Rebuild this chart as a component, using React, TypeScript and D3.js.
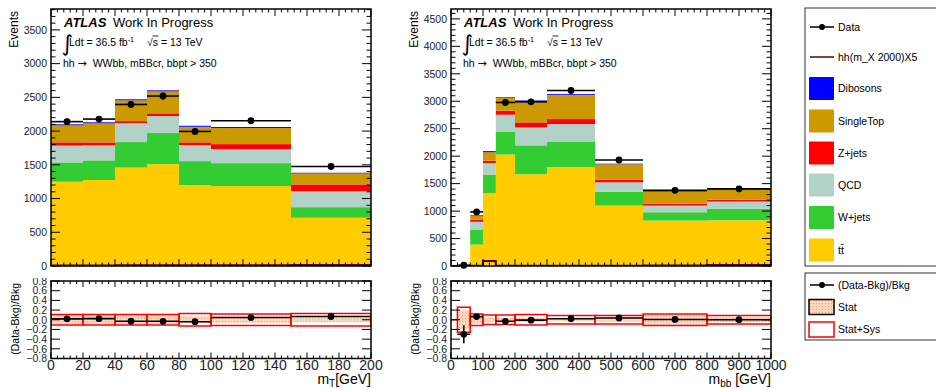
import React from "react";
import * as d3 from "d3";

/* ---------------- m_T panel (left) ---------------- */
const mtEdges = [0, 20, 40, 60, 80, 100, 150, 200];
const mtTtbar = [1250, 1275, 1460, 1510, 1200, 1185, 715];
const mtWjets = [286, 291, 377, 461, 355, 340, 157];
const mtQcd = [249, 224, 283, 252, 238, 208, 238];
const mtZjets = [48, 42, 28, 40, 40, 74, 99];
const mtSingleTop = [252, 283, 308, 326, 231, 238, 163];
const mtDibosons = [15, 15, 15, 15, 15, 15, 10];
const mtSignal = [8, 8, 10, 10, 10, 12, 15];
const mtData: (number | null)[] = [2140, 2178, 2395, 2520, 1995, 2153, 1475];
const mtStat = [0.09, 0.09, 0.09, 0.09, 0.07, 0.06, 0.045];
const mtStatSys = [0.11, 0.11, 0.11, 0.11, 0.13, 0.12, 0.13];
const mtXTicks = [0, 20, 40, 60, 80, 100, 120, 140, 160, 180, 200];
const mtYTicks = [0, 500, 1000, 1500, 2000, 2500, 3000, 3500];

/* ---------------- m_bb panel (right) ---------------- */
const mbbEdges = [0, 20, 60, 100, 140, 200, 300, 450, 600, 800, 1000];
const mbbTtbar = [5, 20, 390, 1330, 2030, 1670, 1803, 1100, 827, 833];
const mbbWjets = [0, 0, 275, 333, 410, 527, 455, 249, 152, 207];
const mbbQcd = [0, 0, 140, 212, 315, 327, 327, 175, 121, 133];
const mbbZjets = [0, 0, 40, 42, 72, 91, 91, 48, 36, 36];
const mbbSingleTop = [0, 0, 70, 155, 238, 385, 440, 281, 224, 185];
const mbbDibosons = [0, 0, 10, 20, 11, 15, 15, 10, 10, 10];
const mbbSignal = [0, 0, 3, 90, 6, 5, 5, 5, 8, 20];
const mbbData: (number | null)[] = [null, 14, 985, null, 2978, 2990, 3196, 1930, 1378, 1405];
const mbbStat = [0, 0.2, 0.08, 0.05, 0.04, 0.04, 0.03, 0.04, 0.1, 0.05];
const mbbStatSys = [0, 0.26, 0.12, 0.1, 0.1, 0.11, 0.09, 0.09, 0.12, 0.09];
const mbbXTicks = [0, 100, 200, 300, 400, 500, 600, 700, 800, 900, 1000];
const mbbYTicks = [0, 500, 1000, 1500, 2000, 2500, 3000, 3500, 4000, 4500];

const ratioTicks = [-0.8, -0.6, -0.4, -0.2, 0, 0.2, 0.4, 0.6, 0.8];

/* ---------------- legend ---------------- */
const stackKeys = ["ttbar", "wjets", "qcd", "zjets", "singletop", "dibosons"];
const colors: Record<string, string> = {
  ttbar: "#ffcc00",
  wjets: "#33cc33",
  qcd: "#b2d2c8",
  zjets: "#ff0000",
  singletop: "#cc9900",
  dibosons: "#0000ff",
};
const legendBoxes = [
  { key: "dibosons", label: "Dibosons" },
  { key: "singletop", label: "SingleTop" },
  { key: "zjets", label: "Z+jets" },
  { key: "qcd", label: "QCD" },
  { key: "wjets", label: "W+jets" },
  { key: "ttbar", label: "tt\u0304" },
];

const FONT = "'Liberation Sans', Arial, Helvetica, sans-serif";
const SIGNAL = "#5a0000";

// pad layout
const TOP_T = 9;
const TOP_B = 266;
const RAT_T = 281;
const RAT_B = 358.5;

function rectPath(x0: number, x1: number, yt: number, yb: number) {
  return `M${x0},${yt}H${x1}V${yb}H${x0}Z`;
}

function Panel(props: any) {
  const { left, right, edges, layers, data, signal, stat, statSys, yMax, yTicks, xTicks, xMinor, yMinor, xTitle, id } = props;
  const x = d3.scaleLinear().domain([edges[0], edges[edges.length - 1]]).range([left, right]);
  const y = d3.scaleLinear().domain([0, yMax]).range([TOP_B, TOP_T]);
  const r = d3.scaleLinear().domain([-0.8, 0.8]).range([RAT_B, RAT_T]);

  const rows = edges.slice(0, -1).map((_: number, i: number) => {
    const row: Record<string, number> = {};
    stackKeys.forEach(k => (row[k] = layers[k][i]));
    return row;
  });
  const series = d3.stack<Record<string, number>>().keys(stackKeys)(rows);
  const bkg = rows.map((row: Record<string, number>) => d3.sum(stackKeys, k => row[k]));

  const sigPts: [number, number][] = [[edges[0], 0]];
  signal.forEach((v: number, i: number) => sigPts.push([edges[i], v]));
  sigPts.push([edges[edges.length - 1], signal[signal.length - 1]]);
  sigPts.push([edges[edges.length - 1], 0]);
  const sigLine = d3.line<[number, number]>().x(d => x(d[0])).y(d => y(d[1])).curve(d3.curveStepAfter);

  const xMinorTicks = d3.range(edges[0], edges[edges.length - 1] + 1e-6, xMinor);
  const yMinorTicks = d3.range(0, yMax, yMinor);

  return (
    <g>
      <defs>
        <clipPath id={`top-${id}`}>
          <rect x={left} y={TOP_T} width={right - left} height={TOP_B - TOP_T} />
        </clipPath>
        <clipPath id={`rat-${id}`}>
          <rect x={left} y={RAT_T} width={right - left} height={RAT_B - RAT_T} />
        </clipPath>
        <clipPath id={`ratlab-${id}`}>
          <rect x={0} y={RAT_T - 3} width={right} height={120} />
        </clipPath>
      </defs>

      {/* stacked backgrounds */}
      <g clipPath={`url(#top-${id})`}>
        {series.map(s => (
          <g key={s.key}>
            {s.map((d, i) => (
              <rect key={i} x={x(edges[i])} width={x(edges[i + 1]) - x(edges[i])}
                y={y(d[1])} height={Math.max(0, y(d[0]) - y(d[1]))} fill={colors[s.key]} />
            ))}
          </g>
        ))}
        <path d={sigLine(sigPts) || ""} fill="none" stroke={SIGNAL} strokeWidth={2} />
      </g>

      {/* data */}
      {data.map((d: number | null, i: number) => {
        if (d == null) return null;
        const xc = x((edges[i] + edges[i + 1]) / 2);
        const err = Math.sqrt(d);
        return (
          <g key={i}>
            <line x1={x(edges[i])} x2={x(edges[i + 1])} y1={y(d)} y2={y(d)} stroke="#000" strokeWidth={1.6} />
            <line x1={xc} x2={xc} y1={y(d + err)} y2={y(Math.max(0, d - err))} stroke="#000" strokeWidth={1.6} />
            <circle cx={xc} cy={y(d)} r={3.4} fill="#000" />
          </g>
        );
      })}

      {/* top frame + ticks */}
      <rect x={left} y={TOP_T} width={right - left} height={TOP_B - TOP_T} fill="none" stroke="#000" strokeWidth={1.5} />
      {yMinorTicks.map((t: number) => {
        const major = t % 500 === 0;
        const len = major ? 9 : 4.5;
        return (
          <g key={t} stroke="#000" strokeWidth={1}>
            <line x1={left} x2={left + len} y1={y(t)} y2={y(t)} />
            <line x1={right} x2={right - len} y1={y(t)} y2={y(t)} />
          </g>
        );
      })}
      {xMinorTicks.map((t: number, i: number) => {
        const major = xTicks.some((m: number) => Math.abs(m - t) < 1e-6);
        const len = major ? 7 : 3.5;
        return (
          <g key={i} stroke="#000" strokeWidth={1}>
            <line x1={x(t)} x2={x(t)} y1={TOP_B} y2={TOP_B - len} />
            <line x1={x(t)} x2={x(t)} y1={TOP_T} y2={TOP_T + len} />
          </g>
        );
      })}
      {yTicks.map((t: number) => (
        <text key={t} x={left - 4} y={y(t)} dy="0.36em" textAnchor="end" fontSize={10.5} fill="#222">{t}</text>
      ))}
      <text transform={`translate(${left - 33},${TOP_T + 2}) rotate(-90)`} textAnchor="end" fontSize={12}>Events</text>

      {/* ATLAS label block */}
      <text x={left + 13} y={27} fontSize={13} fontWeight="bold" fontStyle="italic">ATLAS</text>
      <text x={left + 62} y={27} fontSize={13}>Work In Progress</text>
      <text x={left + 10.5} y={51} fontSize={22} fontFamily="'DejaVu Sans', sans-serif">∫</text>
      <text x={left + 18} y={46} fontSize={10.5}>
        Ldt = 36.5 fb<tspan fontSize={7} dy={-4}>-1</tspan>
      </text>
      <text x={left + 96} y={46} fontSize={10.5}>√s = 13 TeV</text>
      <line x1={left + 101.5} x2={left + 107.5} y1={36} y2={36} stroke="#000" strokeWidth={0.8} />
      <text x={left + 12} y={67} fontSize={10.5} style={{ whiteSpace: "pre" }}>
        hh <tspan fontFamily="'DejaVu Sans', sans-serif" fontSize={11}>→</tspan>  WWbb, mBBcr, bbpt &gt; 350
      </text>

      {/* ratio pad */}
      <g clipPath={`url(#rat-${id})`}>
        {stat.map((s: number, i: number) => (
          <path key={i} d={rectPath(x(edges[i]), x(edges[i + 1]), r(s), r(-s))} fill="url(#statHatch)" />
        ))}
        {statSys.map((s: number, i: number) => (
          <path key={i} d={rectPath(x(edges[i]), x(edges[i + 1]), r(s), r(-s))} fill="none" stroke="#ff0000" strokeWidth={1.5} />
        ))}
        {data.map((d: number | null, i: number) => {
          if (d == null) return null;
          const b = bkg[i];
          const v = (d - b) / b;
          const e = Math.sqrt(d) / b;
          const xc = x((edges[i] + edges[i + 1]) / 2);
          return (
            <g key={i}>
              <line x1={x(edges[i])} x2={x(edges[i + 1])} y1={r(v)} y2={r(v)} stroke="#000" strokeWidth={1.6} />
              <line x1={xc} x2={xc} y1={r(v + e)} y2={r(v - e)} stroke="#000" strokeWidth={1.6} />
              <circle cx={xc} cy={r(v)} r={3.4} fill="#000" />
            </g>
          );
        })}
      </g>
      <rect x={left} y={RAT_T} width={right - left} height={RAT_B - RAT_T} fill="none" stroke="#000" strokeWidth={1.5} />
      {ratioTicks.map(t => (
        <g key={t} stroke="#000" strokeWidth={1}>
          <line x1={left} x2={left + 9} y1={r(t)} y2={r(t)} />
          <line x1={right} x2={right - 9} y1={r(t)} y2={r(t)} />
        </g>
      ))}
      {xMinorTicks.map((t: number, i: number) => {
        const major = xTicks.some((m: number) => Math.abs(m - t) < 1e-6);
        const len = major ? 6 : 3;
        return (
          <g key={i} stroke="#000" strokeWidth={1}>
            <line x1={x(t)} x2={x(t)} y1={RAT_B} y2={RAT_B - len} />
            <line x1={x(t)} x2={x(t)} y1={RAT_T} y2={RAT_T + len} />
          </g>
        );
      })}
      <g clipPath={`url(#ratlab-${id})`}>
        {ratioTicks.map(t => (
          <text key={t} x={left - 4} y={r(t)} dy="0.36em" textAnchor="end" fontSize={10.5} fill="#222">
            {t < 0 ? `−${(-t).toFixed(1)}` : t.toFixed(1)}
          </text>
        ))}
      </g>
      {xTicks.map((t: number) => (
        <text key={t} x={x(t)} y={370} textAnchor="middle" fontSize={14} fill="#222">{t}</text>
      ))}
      <text transform={`translate(${left - 32},${RAT_T + 2}) rotate(-90)`} textAnchor="end" fontSize={10.5}>(Data-Bkg)/Bkg</text>
      <text x={right} y={384} textAnchor="end" fontSize={14}>{xTitle}</text>
    </g>
  );
}

function Legend() {
  const lx = 805;
  const bx = 809;
  const tx = 838;
  const rowY = [27, 57, 88.5, 121, 153, 185, 217.5, 250];
  return (
    <g fontSize={10.5}>
      <rect x={lx} y={8} width={140} height={258} fill="#fff" stroke="#333" strokeWidth={1} />
      <line x1={bx + 1} x2={bx + 25} y1={rowY[0]} y2={rowY[0]} stroke="#000" strokeWidth={1.5} />
      <circle cx={bx + 13} cy={rowY[0]} r={3} fill="#000" />
      <text x={tx} y={rowY[0]} dy="0.36em">Data</text>
      <line x1={bx + 1} x2={bx + 25} y1={rowY[1]} y2={rowY[1]} stroke={SIGNAL} strokeWidth={1.5} />
      <text x={tx} y={rowY[1]} dy="0.36em">hh(m_X 2000)X5</text>
      {legendBoxes.map((b, i) => (
        <g key={b.key}>
          <rect x={bx} y={rowY[i + 2] - 11.5} width={25} height={23} fill={colors[b.key]} rx={1} />
          <text x={tx} y={rowY[i + 2]} dy="0.36em">{b.label}</text>
        </g>
      ))}

      <rect x={lx} y={273} width={140} height={67} fill="#fff" stroke="#333" strokeWidth={1} />
      <line x1={bx + 1} x2={bx + 25} y1={285} y2={285} stroke="#000" strokeWidth={1.5} />
      <circle cx={bx + 13} cy={285} r={3} fill="#000" />
      <text x={tx} y={285} dy="0.36em">(Data-Bkg)/Bkg</text>
      <rect x={bx} y={299.5} width={25} height={15} fill="url(#statHatch)" stroke="#000" strokeWidth={1.5} />
      <text x={tx} y={307} dy="0.36em">Stat</text>
      <rect x={bx} y={322} width={25} height={15} fill="#fff" stroke="#ff0000" strokeWidth={1.5} />
      <text x={tx} y={329.5} dy="0.36em">Stat+Sys</text>
    </g>
  );
}

export default function App() {
  return (
    <svg width={936} height={388} style={{ position: "absolute", left: 0, top: 0, background: "#fff" }} fontFamily={FONT}>
      <defs>
        <pattern id="statHatch" width="3" height="3" patternUnits="userSpaceOnUse">
          <rect width="3" height="3" fill="#fcd6bd" />
          <rect width="1" height="1" fill="#f1a47e" />
        </pattern>
      </defs>
      <rect width={936} height={388} fill="#fff" />
      <Panel
        id="mt"
        left={51}
        right={371}
        edges={mtEdges}
        layers={{ ttbar: mtTtbar, wjets: mtWjets, qcd: mtQcd, zjets: mtZjets, singletop: mtSingleTop, dibosons: mtDibosons }}
        data={mtData}
        signal={mtSignal}
        stat={mtStat}
        statSys={mtStatSys}
        yMax={3810}
        yTicks={mtYTicks}
        yMinor={100}
        xTicks={mtXTicks}
        xMinor={4}
        xTitle={<>m<tspan fontSize={10} dy={3}>T</tspan><tspan dy={-3}>[GeV]</tspan></>}
      />
      <Panel
        id="mbb"
        left={451}
        right={771}
        edges={mbbEdges}
        layers={{ ttbar: mbbTtbar, wjets: mbbWjets, qcd: mbbQcd, zjets: mbbZjets, singletop: mbbSingleTop, dibosons: mbbDibosons }}
        data={mbbData}
        signal={mbbSignal}
        stat={mbbStat}
        statSys={mbbStatSys}
        yMax={4680}
        yTicks={mbbYTicks}
        yMinor={100}
        xTicks={mbbXTicks}
        xMinor={20}
        xTitle={<>m<tspan fontSize={10} dy={3}>bb</tspan><tspan dy={-3}> [GeV]</tspan></>}
      />
      <Legend />
    </svg>
  );
}
